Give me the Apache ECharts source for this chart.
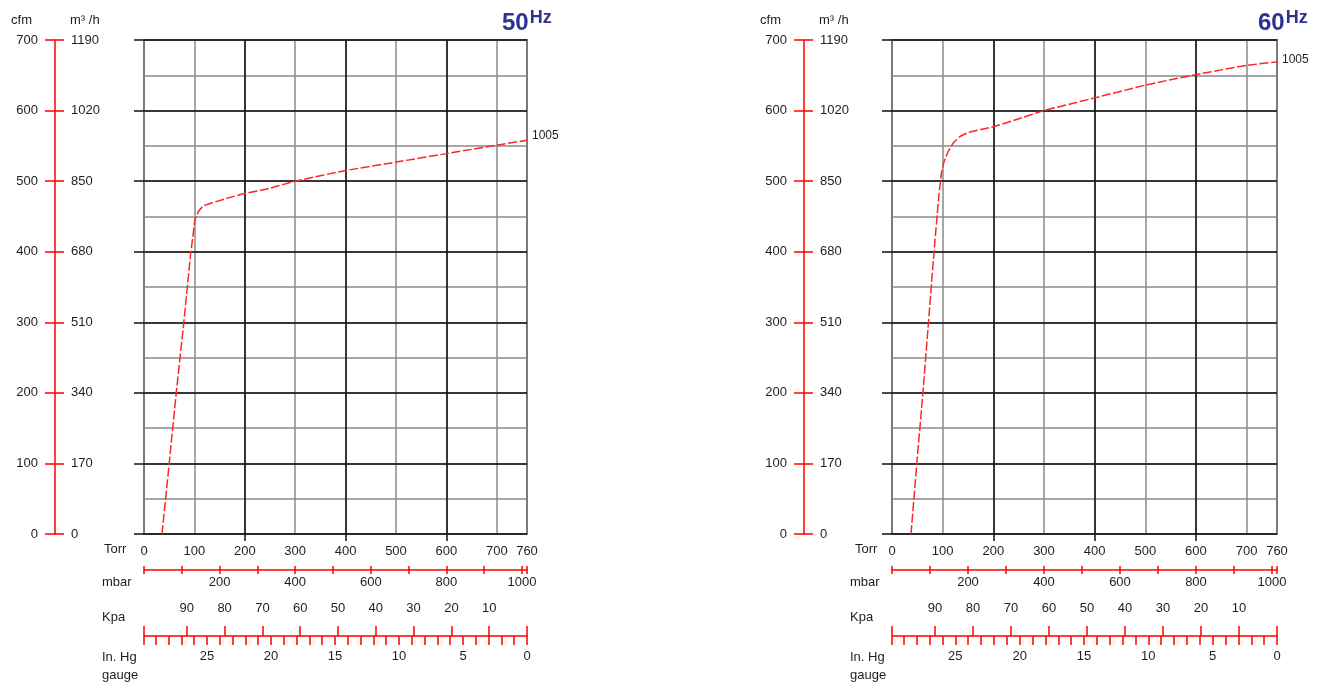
<!DOCTYPE html>
<html><head><meta charset="utf-8">
<script src="https://cdn.jsdelivr.net/npm/echarts@6/dist/echarts.min.js"></script>
<style>html,body{margin:0;padding:0;background:#fff}#c{width:1330px;height:688px}</style>
</head><body><div id="c"></div>
<script>
// ---- data ----
const hzLabels = ['50', '60'];
const endLabels = ['1005', '1005'];
const torr50 = [35.7, 50, 64, 79, 93, 97, 101, 108, 118, 134, 171, 198, 250, 300, 400, 500, 600, 700, 760];
const cfm50  = [0, 100, 200, 300, 400, 421, 445, 457, 465, 469, 477, 482, 490, 500, 515, 527, 539, 551, 558];
const torr60 = [37.5, 49, 61, 72, 83, 93, 98, 103, 111, 121, 134, 151, 200, 249, 300, 400, 500, 600, 700, 760];
const cfm60  = [0, 100, 200, 300, 400, 483, 513, 528, 542, 554, 563, 569, 577, 588, 600, 618, 636, 651, 664, 669];
const torrLabels = [0, 100, 200, 300, 400, 500, 600, 700, 760];
const torrMajorTicks = [200, 400, 600];
const mbarTicks = [0, 100, 200, 300, 400, 500, 600, 700, 800, 900, 1000, 1013.25];
const mbarLabels = [200, 400, 600, 800, 1000];
const kpaTicks = [101.325, 90, 80, 70, 60, 50, 40, 30, 20, 10, 0];
const kpaLabels = [90, 80, 70, 60, 50, 40, 30, 20, 10];
const inhgTicks = [29.92, 29, 28, 27, 26, 25, 24, 23, 22, 21, 20, 19, 18, 17, 16, 15, 14, 13, 12, 11, 10, 9, 8, 7, 6, 5, 4, 3, 2, 1, 0];
const inhgLabels = [25, 20, 15, 10, 5, 0];
const scaleNames = ['Torr', 'mbar', 'Kpa', 'In. Hg\ngauge'];
const torrMax = 760, mbarMax = 1013.25, kpaMax = 101.325, inhgMax = 29.92;
const cfmMax = 700, m3hMax = 1190;

// ---- styling ----
const FONT = '"Liberation Sans", Arial, sans-serif';
const TXT = '#1e1e1e';
const RED = '#ff0000';
const BLK = '#111111';
const GRY = '#8a8a8a';
const plain = (v) => String(v);
const lab = (o) => Object.assign({color: TXT, fontSize: 13, fontFamily: FONT, formatter: plain}, o);
const nm = (o) => Object.assign({color: TXT, fontSize: 13, fontFamily: FONT, align: 'left', verticalAlign: 'middle', lineHeight: 18}, o);
const noLine = {show: false, onZero: false};
const redLine = {show: true, onZero: false, lineStyle: {color: RED, width: 1.5}};

const panels = [
  {left: 144, width: 383, yOff: 89, nameX: [40, 42, 42, 42], endOff: [0, -5], titleLeft: 497, torr: torr50, cfm: cfm50},
  {left: 892, width: 385, yOff: 88, nameX: [37, 42, 42, 42], endOff: [0, -2], titleLeft: 1253, torr: torr60, cfm: cfm60}
];
// vertical offsets (from plot bottom) at which the scale names sit
const nameOffsets = [15, 48, -19 + 102, 30 + 102];

const grids = [], xAxes = [], yAxes = [], series = [], titles = [];
const X_PER = 10;
panels.forEach((P, i) => {
  grids.push({left: P.left, top: 40, width: P.width, height: 494, show: true,
    borderColor: BLK, borderWidth: 1.5, backgroundColor: 'rgba(0,0,0,0)', outerBoundsMode: 'none', containLabel: false});
  xAxes.push(
    { type: 'value', gridIndex: i, min: 0, max: torrMax, interval: 100, position: 'bottom', z: 1,
      axisLine: noLine, axisTick: {show: false},
      splitLine: {show: true, lineStyle: {color: GRY, width: 1.5}},
      axisLabel: lab({customValues: torrLabels, margin: 11}) },
    { type: 'value', gridIndex: i, min: 0, max: torrMax, interval: 200, position: 'bottom', z: 2,
      axisLine: noLine,
      axisTick: {show: true, customValues: torrMajorTicks, length: 7, lineStyle: {color: BLK, width: 1.5}},
      splitLine: {show: true, lineStyle: {color: BLK, width: 1.5}},
      axisLabel: {show: false} },
    { type: 'value', gridIndex: i, min: 0, max: mbarMax, position: 'bottom', offset: 36,
      axisLine: redLine,
      axisTick: {show: true, customValues: mbarTicks, length: 4, lineStyle: {color: RED, width: 1.5}},
      splitLine: {show: false},
      axisLabel: lab({customValues: mbarLabels, margin: 5.5}) },
    { type: 'value', gridIndex: i, min: 0, max: mbarMax, position: 'bottom', offset: 36,
      axisLine: noLine,
      axisTick: {show: true, inside: true, customValues: mbarTicks, length: 4, lineStyle: {color: RED, width: 1.5}},
      splitLine: {show: false}, axisLabel: {show: false} },
    { type: 'value', gridIndex: i, min: 0, max: kpaMax, inverse: true, position: 'bottom', offset: 102,
      axisLine: redLine,
      axisTick: {show: true, inside: true, customValues: kpaTicks, length: 10, lineStyle: {color: RED, width: 1.5}},
      splitLine: {show: false},
      axisLabel: lab({inside: true, customValues: kpaLabels, margin: 21}) },
    { type: 'value', gridIndex: i, min: 0, max: inhgMax, inverse: true, position: 'bottom', offset: 102,
      axisLine: noLine,
      axisTick: {show: true, customValues: inhgTicks, length: 9, lineStyle: {color: RED, width: 1.5}},
      splitLine: {show: false},
      axisLabel: lab({customValues: inhgLabels, margin: 14}) }
  );
  // name-only axes for the scale captions
  scaleNames.forEach((n, k) => {
    xAxes.push({ type: 'value', gridIndex: i, min: 0, max: torrMax, position: 'bottom', offset: nameOffsets[k],
      axisLine: noLine, axisTick: {show: false}, axisLabel: {show: false}, splitLine: {show: false},
      name: n, nameLocation: 'start', nameGap: P.nameX[k], nameMoveOverlap: false,
      nameTextStyle: nm({}) });
  });
  yAxes.push(
    { type: 'value', gridIndex: i, min: 0, max: cfmMax, interval: 50, position: 'left', z: 1,
      axisLine: noLine, axisTick: {show: false}, axisLabel: {show: false},
      splitLine: {show: true, lineStyle: {color: GRY, width: 1.5}} },
    { type: 'value', gridIndex: i, min: 0, max: cfmMax, interval: 100, position: 'left', z: 2,
      axisLine: noLine,
      axisTick: {show: true, length: 10, lineStyle: {color: BLK, width: 1.5}},
      axisLabel: {show: false},
      splitLine: {show: true, lineStyle: {color: BLK, width: 1.5}} },
    { type: 'value', gridIndex: i, min: 0, max: cfmMax, interval: 100, position: 'left', offset: P.yOff,
      axisLine: redLine,
      axisTick: {show: true, length: 10, lineStyle: {color: RED, width: 1.5}},
      axisLabel: lab({margin: 17}), splitLine: {show: false},
      name: 'cfm', nameLocation: 'end', nameGap: 20, nameMoveOverlap: false,
      nameTextStyle: nm({align: 'right', padding: [0, 23, 0, 0]}) },
    { type: 'value', gridIndex: i, min: 0, max: m3hMax, interval: 170, position: 'left', offset: P.yOff,
      axisLine: noLine,
      axisTick: {show: true, inside: true, length: 9, lineStyle: {color: RED, width: 1.5}},
      axisLabel: lab({inside: true, margin: 16}), splitLine: {show: false},
      name: 'm³ /h', nameLocation: 'end', nameGap: 20, nameMoveOverlap: false,
      nameTextStyle: nm({align: 'left', padding: [0, 0, 0, 15]}) }
  );
  series.push({
    type: 'line', xAxisIndex: i * X_PER, yAxisIndex: i * 4, z: 5,
    data: P.torr.map((t, k) => [t, P.cfm[k]]),
    showSymbol: false, symbol: 'none', smooth: 0.15,
    lineStyle: {color: '#ff2626', width: 1.5, type: [9, 2.5]},
    endLabel: {show: true, formatter: endLabels[i], distance: 5, offset: P.endOff,
      color: TXT, fontSize: 12, fontFamily: FONT}
  });
  titles.push({
    text: '{a|' + hzLabels[i] + '}{b|Hz}', left: P.titleLeft, top: 4,
    textStyle: {rich: {
      a: {fontSize: 24, fontWeight: 'bold', color: '#2e3192', fontFamily: FONT, lineHeight: 28},
      b: {fontSize: 18, color: '#2e3192', fontFamily: FONT, verticalAlign: 'top', lineHeight: 28, padding: [0, 0, 6, 1]}
    }}
  });
});

const chart = echarts.init(document.getElementById('c'), null, {renderer: 'canvas'});
chart.setOption({
  animation: false,
  backgroundColor: '#ffffff',
  title: titles,
  grid: grids,
  xAxis: xAxes,
  yAxis: yAxes,
  series: series
});
</script>
</body></html>
